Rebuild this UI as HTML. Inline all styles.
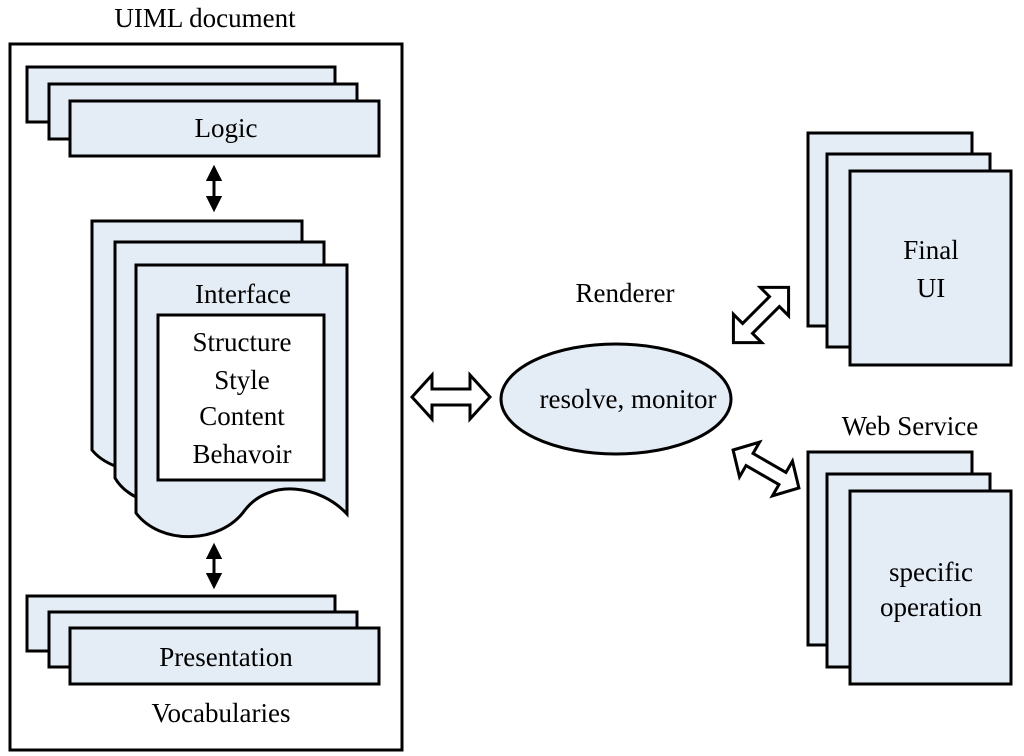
<!DOCTYPE html>
<html><head><meta charset="utf-8"><style>
html,body{margin:0;padding:0;background:#fff;}
svg{display:block;}
svg text{font-family:"Liberation Serif","Times New Roman",Times,serif !important;}
</style></head><body>
<svg width="1024" height="756" viewBox="0 0 1024 756" xmlns="http://www.w3.org/2000/svg">
<defs>
<marker id="ah" viewBox="0 0 10 10" refX="8" refY="5" markerWidth="5.5" markerHeight="5.5" orient="auto-start-reverse"><path d="M0,0 L10,5 L0,10 Z" fill="#000"/></marker>
</defs>
<g stroke="#000" stroke-width="3" fill="#e4ecf6">
<rect x="10" y="44" width="392" height="706" fill="#fff"/>
<rect x="27" y="67" width="308" height="55"/>
<rect x="49" y="84" width="308" height="55"/>
<rect x="70" y="101" width="309" height="55"/>
<line x1="214" y1="168" x2="214" y2="209" marker-start="url(#ah)" marker-end="url(#ah)"/>
<path d="M115,466 Q100,460 92,450 V221 H302 V242"/>
<path d="M136,497 Q122,490 115,478 V242 H324 V265"/>
<path d="M136,265 H347 V514 C320,485 270,478 245,510 C220,545 160,545 136,513 Z"/>
<rect x="158" y="315" width="166" height="165" fill="#fff"/>
<line x1="214" y1="546" x2="214" y2="586" marker-start="url(#ah)" marker-end="url(#ah)"/>
<rect x="27" y="596" width="308" height="55"/>
<rect x="49" y="612" width="308" height="55"/>
<rect x="70" y="628" width="309" height="56"/>
<ellipse cx="616" cy="399" rx="115" ry="55"/>
<rect x="808" y="133" width="164" height="193"/>
<rect x="827" y="154" width="163" height="193"/>
<rect x="850" y="171" width="161" height="194"/>
<rect x="808" y="452" width="164" height="193"/>
<rect x="827" y="474" width="163" height="193"/>
<rect x="850" y="491" width="161" height="193"/>
<g fill="#fff">
<path transform="translate(451,397)" d="M-39,0 L-19,-22 L-19,-8 L19,-8 L19,-22 L39,0 L19,22 L19,8 L-19,8 L-19,22 Z"/>
<path transform="translate(761,315) rotate(-45)" d="M-39,0 L-19,-20 L-19,-7 L19,-7 L19,-20 L39,0 L19,20 L19,7 L-19,7 L-19,20 Z"/>
<path transform="translate(766,469) rotate(30)" d="M-38,0 L-19,-20 L-19,-7 L19,-7 L19,-20 L38,0 L19,20 L19,7 L-19,7 L-19,20 Z"/>
</g>
</g>
<g font-size="27" text-anchor="middle" font-family="Liberation Serif, Times New Roman, serif" fill="#000">
<text x="205" y="27">UIML document</text>
<text x="226" y="137">Logic</text>
<text x="243" y="303">Interface</text>
<text x="242" y="351">Structure</text>
<text x="242" y="389">Style</text>
<text x="242" y="425">Content</text>
<text x="242" y="463">Behavoir</text>
<text x="226" y="666">Presentation</text>
<text x="221" y="722">Vocabularies</text>
<text x="625" y="302">Renderer</text>
<text x="628" y="408">resolve, monitor</text>
<text x="931" y="259">Final</text>
<text x="931" y="297">UI</text>
<text x="910" y="435">Web Service</text>
<text x="931" y="581">specific</text>
<text x="931" y="616">operation</text>
</g>
</svg>
</body></html>
